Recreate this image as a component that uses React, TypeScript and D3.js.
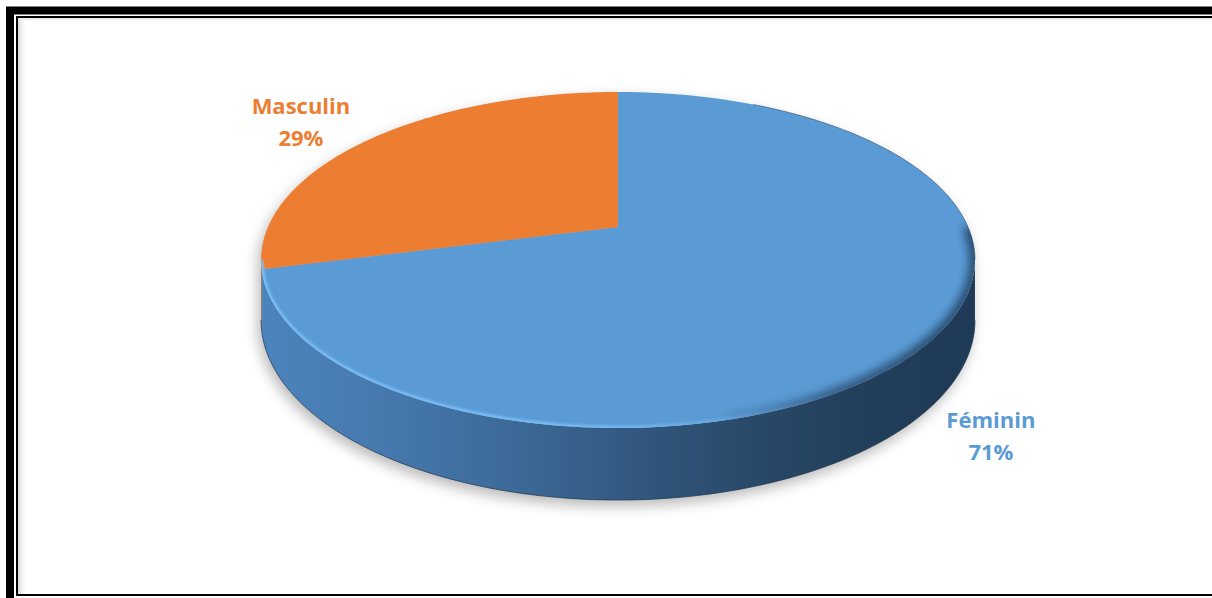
import React from "react";
import * as d3 from "d3";

const categories = ["Féminin", "Masculin"];
const values = [71, 29];

const W = 1212;
const H = 598;

// perspective projection of the pie plane
const CX = 618;
const CY = 227;
const A = 350;
const B = 116.93;
const P = -0.1964;
const DEPTH = 57.9;

function proj(a: number, h: number, k = 1): [number, number] {
  const u = Math.sin(a) * k;
  const w = -Math.cos(a) * k;
  const d = 1 + P * w;
  return [CX + (A * u) / d, (CY + B * w + h) / d];
}

function arcPoints(a0: number, a1: number, h: number, n = 120): [number, number][] {
  const pts: [number, number][] = [];
  for (let i = 0; i <= n; i++) pts.push(proj(a0 + ((a1 - a0) * i) / n, h));
  return pts;
}

const line = d3.line<[number, number]>();

export default function App() {
  const pie = d3.pie<number>().sort(null).startAngle(0).endAngle(2 * Math.PI);
  const arcs = pie(values);
  const topColors = ["#5B9BD5", "#ED7D31"];
  const labelColors = ["#5B9BD5", "#ED7D31"];
  const sideColors = ["url(#sideBlue)", "#A8541E"];
  const labelK = [1.16, 1.33];
  const labelH = [DEPTH, 0];

  // visible side range (silhouette tangents)
  const aR = Math.acos(P);
  const aL = 2 * Math.PI - aR;

  const center = proj(0, 0, 0);

  const topPaths = arcs.map((s) => {
    const pts = [center, ...arcPoints(s.startAngle, s.endAngle, 0)];
    return line(pts) + "Z";
  });

  const sidePaths = arcs.map((s) => {
    const lo = Math.max(s.startAngle, aR);
    const hi = Math.min(s.endAngle, aL);
    if (hi <= lo) return null;
    const top = arcPoints(lo, hi, 0, 100);
    const bot = arcPoints(hi, lo, DEPTH, 100);
    return line([...top, ...bot]) + "Z";
  });

  const silhouette =
    line([
      ...arcPoints(aL, aL + 2 * Math.PI - (aL - aR), 0, 200),
      ...arcPoints(aR, aL, DEPTH, 200),
    ]) + "Z";

  const fullTop = line(arcPoints(0, 2 * Math.PI, 0, 240)) + "Z";
  const frontEdge = line(arcPoints(aL, Math.PI * 0.82, 0, 120));
  const rightEdge = line(arcPoints(Math.PI * 0.92, Math.PI * 0.5, 0, 120));

  const total = d3.sum(values);

  return (
    <svg
      width={W}
      height={H}
      style={{ position: "absolute", left: 0, top: 0, background: "#fff" }}
    >
      <defs>
        <linearGradient id="sideBlue" gradientUnits="userSpaceOnUse" x1={262} x2={976} y1={0} y2={0}>
          <stop offset="0" stopColor="#4C84BD" />
          <stop offset="0.18" stopColor="#4678AD" />
          <stop offset="0.38" stopColor="#3B6794" />
          <stop offset="0.55" stopColor="#30557B" />
          <stop offset="0.7" stopColor="#284867" />
          <stop offset="0.85" stopColor="#223E5B" />
          <stop offset="1" stopColor="#1F3A56" />
        </linearGradient>
        <linearGradient id="rimGrad" gradientUnits="userSpaceOnUse" x1={262} x2={820} y1={0} y2={0}>
          <stop offset="0" stopColor="#7CC2FA" stopOpacity="0.9" />
          <stop offset="0.55" stopColor="#7CC2FA" stopOpacity="0.85" />
          <stop offset="1" stopColor="#7CC2FA" stopOpacity="0" />
        </linearGradient>
        <linearGradient id="bevelGrad" gradientUnits="userSpaceOnUse" x1={700} x2={930} y1={0} y2={0}>
          <stop offset="0" stopColor="#21405F" stopOpacity="0" />
          <stop offset="0.6" stopColor="#21405F" stopOpacity="0.7" />
          <stop offset="1" stopColor="#21405F" stopOpacity="0.85" />
        </linearGradient>
        <linearGradient id="leftShade" x1="0" x2="1" y1="0" y2="0">
          <stop offset="0" stopColor="#d4d4d4" />
          <stop offset="1" stopColor="#ffffff" stopOpacity="0" />
        </linearGradient>
        <linearGradient id="topShade" x1="0" x2="0" y1="0" y2="1">
          <stop offset="0" stopColor="#e2e2e2" />
          <stop offset="1" stopColor="#ffffff" stopOpacity="0" />
        </linearGradient>
        <filter id="shadow" x="-20%" y="-20%" width="140%" height="140%">
          <feGaussianBlur stdDeviation="7" />
        </filter>
        <filter id="blur2" x="-10%" y="-10%" width="120%" height="120%">
          <feGaussianBlur stdDeviation="1.2" />
        </filter>
        <filter id="blur5" x="-20%" y="-20%" width="140%" height="140%">
          <feGaussianBlur stdDeviation="4" />
        </filter>
        <clipPath id="topClip">
          <path d={fullTop} />
        </clipPath>
      </defs>

      {/* frame */}
      <rect x={18} y={18} width={9} height={H - 21} fill="url(#leftShade)" />
      <rect x={18} y={18} width={W} height={4} fill="url(#topShade)" />
      <rect x={10} y={10.5} width={W + 40} height={H + 40} fill="none" stroke="#000" strokeWidth={8} />
      <rect x={17} y={17} width={W + 20} height={H - 20} fill="none" stroke="#000" strokeWidth={2} />

      {/* shadow */}
      <path
        d={silhouette}
        transform="translate(-3,6)"
        fill="#000"
        opacity={0.28}
        filter="url(#shadow)"
      />

      {/* side walls */}
      {sidePaths.map((d, i) =>
        d ? <path key={"s" + i} d={d} fill={sideColors[i]} /> : null
      )}
      <path
        d={line(arcPoints(aR, aL, DEPTH, 200)) || ""}
        fill="none"
        stroke="#1B3248"
        strokeWidth={1}
        opacity={0.7}
      />

      {/* top faces */}
      {topPaths.map((d, i) => (
        <path key={"t" + i} d={d} fill={topColors[i]} />
      ))}

      {/* bevel shading */}
      <g clipPath="url(#topClip)">
        <path
          d={rightEdge || ""}
          fill="none"
          stroke="url(#bevelGrad)"
          strokeWidth={12}
          filter="url(#blur5)"
        />
        <path
          d={frontEdge || ""}
          fill="none"
          stroke="url(#rimGrad)"
          strokeWidth={5}
          filter="url(#blur2)"
        />
      </g>
      <path
        d={line(arcPoints(Math.PI * 0.15, aR, 0, 80)) || ""}
        fill="none"
        stroke="#2A4A6A"
        strokeWidth={1}
        opacity={0.6}
      />

      {/* labels */}
      {arcs.map((s, i) => {
        const mid = (s.startAngle + s.endAngle) / 2;
        const [lx, ly] = proj(mid, labelH[i], labelK[i]);
        return (
          <text
            key={"l" + i}
            x={lx}
            textAnchor="middle"
            fill={labelColors[i]}
            fontFamily="'Open Sans', sans-serif"
            fontWeight={700}
            fontSize={22}
          >
            <tspan x={lx} y={ly}>
              {categories[i]}
            </tspan>
            <tspan x={lx} y={ly + 32}>
              {Math.round((values[i] / total) * 100) + "%"}
            </tspan>
          </text>
        );
      })}
    </svg>
  );
}
